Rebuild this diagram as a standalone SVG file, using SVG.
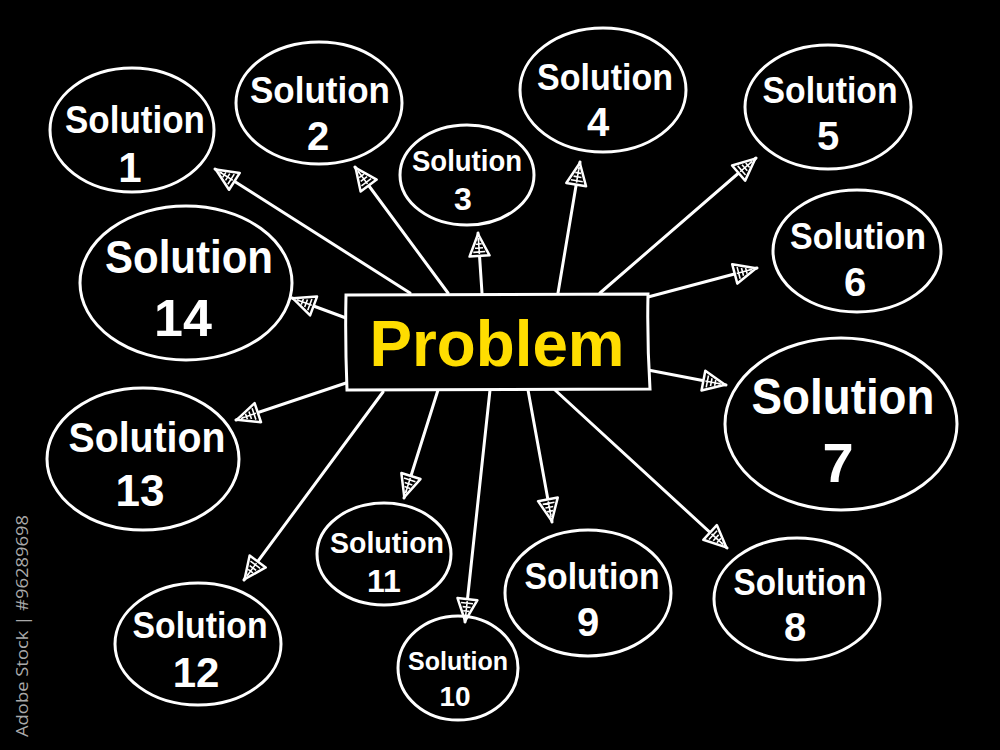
<svg xmlns="http://www.w3.org/2000/svg" width="1000" height="750" viewBox="0 0 1000 750">
<defs>
<style>
.bub{fill:none;stroke:#fff;stroke-width:3}
.t{fill:#fff;font-family:"Liberation Sans","Noto Sans",sans-serif;font-weight:bold;text-anchor:middle}
.c{stroke:#fff;stroke-width:3;fill:none;stroke-linecap:round}
</style>
<marker id="ah" viewBox="0 0 26 24" refX="25" refY="12" markerWidth="26" markerHeight="24" markerUnits="userSpaceOnUse" orient="auto">
<path d="M2,2 L24,12 L2,22 Z" fill="#000" stroke="#fff" stroke-width="2.5" stroke-linejoin="round"/>
<path d="M6,6 L6,18 M10,8 L10,16 M14,9 L14,15 M18,11 L18,13 M4,12 L20,12" stroke="#fff" stroke-width="1.6"/>
</marker>
</defs>
<rect width="1000" height="750" fill="#000"/>
<g id="connectors">
<line class="c" x1="410" y1="293" x2="215" y2="169" marker-end="url(#ah)"/>
<line class="c" x1="448" y1="293" x2="355" y2="167" marker-end="url(#ah)"/>
<line class="c" x1="482" y1="293" x2="478" y2="233" marker-end="url(#ah)"/>
<line class="c" x1="558" y1="293" x2="580" y2="162" marker-end="url(#ah)"/>
<line class="c" x1="600" y1="293" x2="756" y2="158" marker-end="url(#ah)"/>
<line class="c" x1="648" y1="297" x2="757" y2="268" marker-end="url(#ah)"/>
<line class="c" x1="648" y1="370" x2="726" y2="385" marker-end="url(#ah)"/>
<line class="c" x1="555" y1="390" x2="727" y2="548" marker-end="url(#ah)"/>
<line class="c" x1="528" y1="390" x2="552" y2="522" marker-end="url(#ah)"/>
<line class="c" x1="490" y1="390" x2="465" y2="622" marker-end="url(#ah)"/>
<line class="c" x1="438" y1="390" x2="404" y2="498" marker-end="url(#ah)"/>
<line class="c" x1="383" y1="392" x2="244" y2="580" marker-end="url(#ah)"/>
<line class="c" x1="346" y1="383" x2="236" y2="420" marker-end="url(#ah)"/>
<line class="c" x1="346" y1="318" x2="292" y2="298" marker-end="url(#ah)"/>
</g>
<g id="problem">
<path d="M346,295 L648,294 Q647,340 650,389 L347,390 Q345,340 346,295 Z" fill="#000" stroke="#fff" stroke-width="3"/>
<text x="497" y="366" font-family="Liberation Sans,Noto Sans,sans-serif" font-weight="bold" font-size="64" fill="#FFDD00" text-anchor="middle" textLength="255" lengthAdjust="spacingAndGlyphs">Problem</text>
</g>
<g id="s1"><ellipse class="bub" cx="132" cy="130" rx="82" ry="62"/><text class="t" x="135" y="133" font-size="38" textLength="140" lengthAdjust="spacingAndGlyphs">Solution</text><text class="t" x="130" y="182" font-size="42">1</text></g>
<g id="s2"><ellipse class="bub" cx="319" cy="103" rx="83" ry="61"/><text class="t" x="320" y="103" font-size="36" textLength="140" lengthAdjust="spacingAndGlyphs">Solution</text><text class="t" x="318" y="150" font-size="40">2</text></g>
<g id="s3"><ellipse class="bub" cx="467" cy="175" rx="67" ry="50"/><text class="t" x="467" y="171" font-size="30" textLength="110" lengthAdjust="spacingAndGlyphs">Solution</text><text class="t" x="463" y="210" font-size="32">3</text></g>
<g id="s4"><ellipse class="bub" cx="603" cy="90" rx="83" ry="62"/><text class="t" x="605" y="90" font-size="36" textLength="136" lengthAdjust="spacingAndGlyphs">Solution</text><text class="t" x="598" y="136" font-size="40">4</text></g>
<g id="s5"><ellipse class="bub" cx="828" cy="107" rx="83" ry="62"/><text class="t" x="830" y="103" font-size="36" textLength="135" lengthAdjust="spacingAndGlyphs">Solution</text><text class="t" x="828" y="150" font-size="40">5</text></g>
<g id="s6"><ellipse class="bub" cx="857" cy="251" rx="84" ry="61"/><text class="t" x="858" y="249" font-size="36" textLength="136" lengthAdjust="spacingAndGlyphs">Solution</text><text class="t" x="855" y="296" font-size="40">6</text></g>
<g id="s7"><ellipse class="bub" cx="841" cy="424" rx="116" ry="86"/><text class="t" x="843" y="414" font-size="50" textLength="183" lengthAdjust="spacingAndGlyphs">Solution</text><text class="t" x="838" y="482" font-size="56">7</text></g>
<g id="s8"><ellipse class="bub" cx="797" cy="599" rx="83" ry="61"/><text class="t" x="800" y="595" font-size="36" textLength="133" lengthAdjust="spacingAndGlyphs">Solution</text><text class="t" x="795" y="641" font-size="40">8</text></g>
<g id="s9"><ellipse class="bub" cx="588" cy="593" rx="83" ry="63"/><text class="t" x="592" y="589" font-size="36" textLength="135" lengthAdjust="spacingAndGlyphs">Solution</text><text class="t" x="588" y="636" font-size="40">9</text></g>
<g id="s10"><ellipse class="bub" cx="458" cy="668" rx="60" ry="52"/><text class="t" x="458" y="670" font-size="26" textLength="100" lengthAdjust="spacingAndGlyphs">Solution</text><text class="t" x="455" y="706" font-size="28">10</text></g>
<g id="s11"><ellipse class="bub" cx="384" cy="554" rx="67" ry="51"/><text class="t" x="387" y="553" font-size="30" textLength="114" lengthAdjust="spacingAndGlyphs">Solution</text><text class="t" x="384" y="592" font-size="32">11</text></g>
<g id="s12"><ellipse class="bub" cx="198" cy="644" rx="83" ry="61"/><text class="t" x="200" y="638" font-size="36" textLength="135" lengthAdjust="spacingAndGlyphs">Solution</text><text class="t" x="196" y="687" font-size="42">12</text></g>
<g id="s13"><ellipse class="bub" cx="143" cy="459" rx="96" ry="71"/><text class="t" x="147" y="452" font-size="42" textLength="157" lengthAdjust="spacingAndGlyphs">Solution</text><text class="t" x="140" y="506" font-size="44">13</text></g>
<g id="s14"><ellipse class="bub" cx="186" cy="283" rx="106" ry="77"/><text class="t" x="189" y="273" font-size="46" textLength="168" lengthAdjust="spacingAndGlyphs">Solution</text><text class="t" x="183" y="336" font-size="52">14</text></g>
<text x="28" y="737" transform="rotate(-90 28 737)" font-family="Open Sans,Liberation Sans,sans-serif" font-size="17" fill="#aaa" textLength="222" lengthAdjust="spacingAndGlyphs">Adobe Stock | #96289698</text>
</svg>
